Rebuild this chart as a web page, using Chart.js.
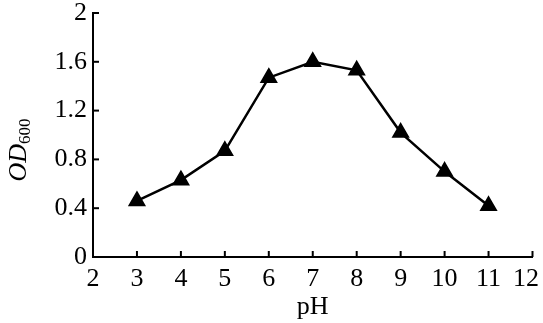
<!DOCTYPE html>
<html>
<head>
<meta charset="utf-8">
<script src="https://cdn.jsdelivr.net/npm/chart.js@4/dist/chart.umd.min.js"></script>
<style>
html,body{margin:0;padding:0;background:#fff;}
#wrap{width:543px;height:323px;position:relative;}
</style>
</head>
<body>
<div id="wrap"><canvas id="phChart"></canvas></div>
<script>
const phValues = [3,4,5,6,7,8,9,10,11];
const odValues = [0.46,0.63,0.87,1.47,1.60,1.53,1.02,0.70,0.42];
const xTicks = ["2","3","4","5","6","7","8","9","10","11","12"];
const yTicks = ["0","0.4","0.8","1.2","1.6","2"];

const serif = "'Liberation Serif','Times New Roman',serif";

// short tick marks drawn inside the plot, and the OD600 axis title with subscript
const axisExtras = {
id: "axisExtras",
afterDraw(chart){
const c = chart.ctx;
const x = chart.scales.x, y = chart.scales.y;
c.save();
c.strokeStyle = "#000";
c.lineWidth = 2;
x.ticks.forEach(t => {
const px = x.getPixelForValue(t.value);
c.beginPath();
c.moveTo(px, y.bottom);
c.lineTo(px, y.bottom - 6);
c.stroke();
});
y.ticks.forEach(t => {
const py = y.getPixelForValue(t.value);
c.beginPath();
c.moveTo(x.left, py);
c.lineTo(x.left + 6, py);
c.stroke();
});
c.translate(26, 150);
c.rotate(-Math.PI/2);
c.fillStyle = "#000";
c.textBaseline = "alphabetic";
c.font = "italic 26px " + serif;
const w1 = c.measureText("OD").width;
c.font = "17px " + serif;
const w2 = c.measureText("600").width;
const start = -(w1 + w2)/2;
c.font = "italic 26px " + serif;
c.fillText("OD", start, 0);
c.font = "17px " + serif;
c.fillText("600", start + w1, 4);
c.restore();
}
};

new Chart(document.getElementById("phChart"), {
type: "line",
data: {
datasets: [{
data: phValues.map((p,i) => ({x:p, y:odValues[i]})),
borderColor: "#000",
backgroundColor: "#000",
borderWidth: 2.5,
pointStyle: "triangle",
pointRadius: 8,
pointHoverRadius: 8,
tension: 0
}]
},
options: {
responsive: true,
maintainAspectRatio: false,
animation: false,
layout: {padding: {top: 13, right: 8, left: 0, bottom: 0}},
plugins: {
legend: {display: false},
tooltip: {enabled: false}
},
scales: {
x: {
type: "linear",
min: 2,
max: 12,
ticks: {
stepSize: 1,
color: "#000",
font: {family: serif, size: 26},
padding: 7,
maxRotation: 0,
// last label nudged left so it stays inside the canvas, like the original
callback: (v) => {
const i = Math.round(v) - 2;
return i === xTicks.length - 1 ? xTicks[i] + "\u2002" : xTicks[i];
}
},
grid: {display: false, drawTicks: false},
border: {display: true, color: "#000", width: 2},
title: {
display: true,
text: "pH",
color: "#000",
font: {family: serif, size: 26},
padding: {top: 0, bottom: 0}
},
afterFit: (s) => { s.height = 66; s.paddingLeft = 0; s.paddingRight = 0; }
},
y: {
min: 0,
max: 2,
ticks: {
stepSize: 0.4,
color: "#000",
font: {family: serif, size: 26},
padding: 6,
callback: (v) => yTicks[Math.round(v / 0.4)]
},
grid: {display: false, drawTicks: false},
border: {display: true, color: "#000", width: 2},
afterFit: (s) => { s.width = 93; s.paddingTop = 0; s.paddingBottom = 0; }
}
}
},
plugins: [axisExtras]
});
</script>
</body>
</html>
